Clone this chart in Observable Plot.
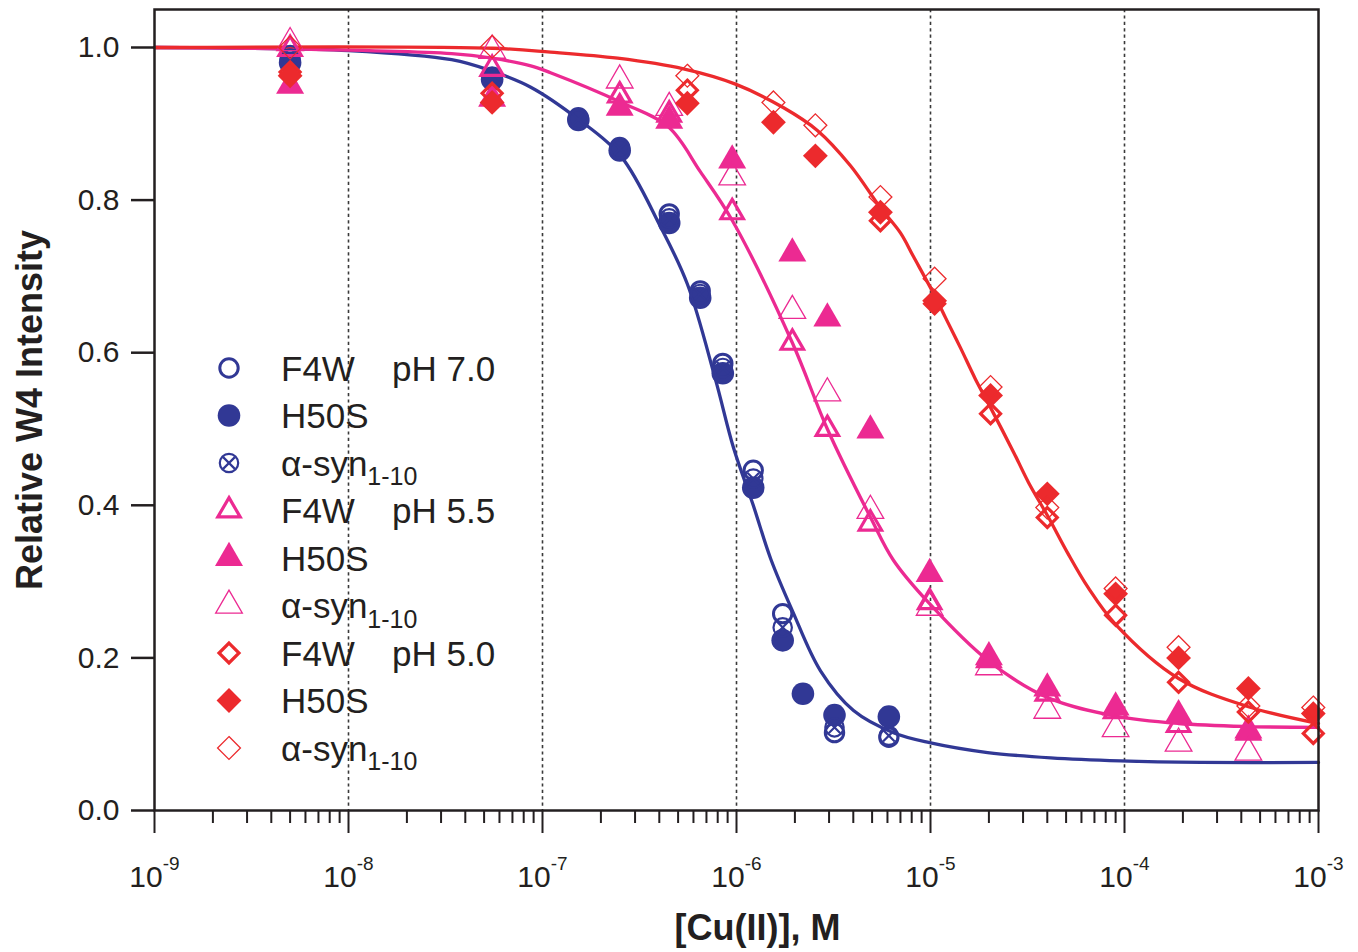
<!DOCTYPE html>
<html>
<head>
<meta charset="utf-8">
<script src="https://cdn.jsdelivr.net/npm/d3@7"></script>
<script src="https://cdn.jsdelivr.net/npm/@observablehq/plot@0.6"></script>
<style>
  html, body { margin: 0; padding: 0; background: #fff; }
  #chart { width: 1358px; height: 952px; }
</style>
</head>
<body>
<div id="chart"></div>
<script>
// ---------------- DATA ----------------
// axis ticks / labels
const xDecades = [1e-9, 1e-8, 1e-7, 1e-6, 1e-5, 1e-4, 1e-3];
const gridLines = [1e-8, 1e-7, 1e-6, 1e-5, 1e-4];
const yTicks = [0, 0.2, 0.4, 0.6, 0.8, 1.0];
const xTitle = "[Cu(II)], M";
const yTitle = "Relative W4 Intensity";

// pH 7.0 (blue)
const ph70_F4W_x  = [5e-9, 5.5e-8, 1.53e-7, 2.5e-7, 4.5e-7, 6.5e-7, 8.5e-7, 1.22e-6, 1.73e-6, 3.2e-6, 6.1e-6];
const ph70_F4W_y  = [0.985, 0.960, 0.908, 0.869, 0.782, 0.681, 0.586, 0.446, 0.258, 0.102, 0.096];
const ph70_H50S_x = [5e-9, 5.5e-8, 1.53e-7, 2.5e-7, 4.5e-7, 6.5e-7, 8.5e-7, 1.22e-6, 1.73e-6, 2.2e-6, 3.2e-6, 6.1e-6];
const ph70_H50S_y = [0.980, 0.958, 0.905, 0.865, 0.770, 0.672, 0.573, 0.423, 0.223, 0.153, 0.125, 0.123];
const ph70_syn_x  = [5e-9, 5.5e-8, 1.53e-7, 2.5e-7, 4.5e-7, 6.5e-7, 8.5e-7, 1.22e-6, 1.73e-6, 3.2e-6, 6.1e-6];
const ph70_syn_y  = [0.990, 0.962, 0.906, 0.867, 0.776, 0.677, 0.580, 0.435, 0.240, 0.109, 0.098];

// pH 5.5 (pink)
const ph55_x      = [5e-9, 5.5e-8, 2.5e-7, 4.5e-7, 9.5e-7, 1.94e-6, 2.94e-6, 4.9e-6, 9.9e-6, 2e-5, 4e-5, 9e-5, 1.9e-4, 4.35e-4];
const ph55_F4W_y  = [0.998, 0.972, 0.937, 0.912, 0.784, 0.613, 0.500, 0.376, 0.273, 0.197, 0.153, 0.130, 0.112, 0.102];
const ph55_H50S_y = [0.950, 0.933, 0.921, 0.904, 0.852, 0.730, 0.645, 0.498, 0.310, 0.201, 0.160, 0.135, 0.125, 0.105];
const ph55_syn_y  = [1.006, 0.996, 0.957, 0.921, 0.830, 0.655, 0.547, 0.393, 0.266, 0.188, 0.131, 0.107, 0.088, 0.076];

// pH 5.0 (red)
const ph50_F4W_x  = [5e-9, 5.5e-8, 5.58e-7, 5.52e-6, 1.05e-5, 2.04e-5, 4e-5, 9e-5, 1.9e-4, 4.35e-4, 9.4e-4];
const ph50_F4W_y  = [0.968, 0.940, 0.944, 0.773, 0.664, 0.520, 0.384, 0.256, 0.168, 0.129, 0.101];
const ph50_x      = [5e-9, 5.5e-8, 5.58e-7, 1.55e-6, 2.55e-6, 5.52e-6, 1.05e-5, 2.04e-5, 4e-5, 9e-5, 1.9e-4, 4.35e-4, 9.4e-4];
const ph50_H50S_y = [0.963, 0.928, 0.927, 0.902, 0.858, 0.784, 0.668, 0.544, 0.415, 0.284, 0.200, 0.160, 0.127];
const ph50_syn_y  = [1.000, 1.001, 0.963, 0.928, 0.898, 0.804, 0.697, 0.555, 0.397, 0.291, 0.214, 0.137, 0.135];

// fitted curves
const fit70_x = [1e-9, 3e-9, 1e-8, 3.4e-8, 5.5e-8, 8.7e-8, 1.53e-7, 2.53e-7, 4.06e-7, 5.58e-7, 7.79e-7, 9.66e-7, 1.22e-6, 1.5e-6, 1.94e-6, 2.71e-6, 4.01e-6, 6.44e-6, 9.88e-6, 1.97e-5, 4.16e-5, 9.53e-5, 2.47e-4, 1e-3];
const fit70_y = [1.000, 0.999, 0.996, 0.984, 0.969, 0.948, 0.906, 0.858, 0.765, 0.690, 0.565, 0.475, 0.400, 0.330, 0.262, 0.183, 0.131, 0.102, 0.089, 0.076, 0.069, 0.065, 0.063, 0.063];
const fit55_x = [1e-9, 3e-9, 3.4e-8, 5.5e-8, 8.7e-8, 1.1e-7, 2.55e-7, 4.45e-7, 6.52e-7, 9.53e-7, 1.94e-6, 2.94e-6, 4.91e-6, 6.44e-6, 9.89e-6, 1.97e-5, 4.01e-5, 8.87e-5, 1.9e-4, 4.35e-4, 1e-3];
const fit55_y = [1.000, 0.999, 0.992, 0.986, 0.976, 0.967, 0.928, 0.896, 0.837, 0.773, 0.613, 0.500, 0.384, 0.328, 0.271, 0.197, 0.148, 0.124, 0.114, 0.110, 0.109];
const fit50_x = [1e-9, 5.5e-8, 1.1e-7, 2.44e-7, 5.33e-7, 9.88e-7, 1.75e-6, 2.62e-6, 3.87e-6, 5.52e-6, 7e-6, 8.17e-6, 1.05e-5, 1.2e-5, 1.43e-5, 1.7e-5, 2.04e-5, 2.7e-5, 3.2e-5, 4.06e-5, 5.08e-5, 6.5e-5, 8.99e-5, 1.9e-4, 4.35e-4, 1e-3];
const fit50_y = [1.000, 0.999, 0.994, 0.986, 0.972, 0.952, 0.921, 0.891, 0.845, 0.790, 0.757, 0.726, 0.675, 0.645, 0.606, 0.566, 0.528, 0.468, 0.430, 0.384, 0.338, 0.292, 0.244, 0.173, 0.136, 0.114];

// legend
const legendNames = ["F4W", "H50S", "α-syn", "F4W", "H50S", "α-syn", "F4W", "H50S", "α-syn"];
const legendPH    = ["pH 7.0", "", "", "pH 5.5", "", "", "pH 5.0", "", ""];
const legendSub   = ["", "", "1-10", "", "", "1-10", "", "", "1-10"];

// ---------------- STYLE ----------------
const ink = "#231f20";
const C = {blue: "#313895", pink: "#ec2a92", red: "#ec2a2d"};
const font = "'Liberation Sans', Arial, Helvetica, sans-serif";

const ST = {
  openCircle:   {symbol: "circle",   r: 9.2,  filled: false, sw: 3},
  filledCircle: {symbol: "circle",   r: 11.3, filled: true},
  crossCircle:  {symbol: "circle",   r: 9.2,  filled: false, sw: 2.2, cross: 5.4},
  thickTri:     {symbol: "triangle", r: 8.3,  filled: false, sw: 3.2},
  filledTri:    {symbol: "triangle", r: 10.4, filled: true},
  thinTri:      {symbol: "triangle", r: 9.9,  filled: false, sw: 1.3},
  thickDia:     {symbol: "diamond2", r: 9.0,  filled: false, sw: 3.2},
  filledDia:    {symbol: "diamond2", r: 11.2, filled: true},
  thinDia:      {symbol: "diamond2", r: 10.3, filled: false, sw: 1.3}
};

const series = [
  {xs: ph70_F4W_x,  ys: ph70_F4W_y,  st: ST.openCircle,   color: C.blue},
  {xs: ph70_H50S_x, ys: ph70_H50S_y, st: ST.filledCircle, color: C.blue},
  {xs: ph70_syn_x,  ys: ph70_syn_y,  st: ST.crossCircle,  color: C.blue},
  {xs: ph55_x,      ys: ph55_F4W_y,  st: ST.thickTri,     color: C.pink},
  {xs: ph55_x,      ys: ph55_H50S_y, st: ST.filledTri,    color: C.pink},
  {xs: ph55_x,      ys: ph55_syn_y,  st: ST.thinTri,      color: C.pink},
  {xs: ph50_F4W_x,  ys: ph50_F4W_y,  st: ST.thickDia,     color: C.red},
  {xs: ph50_x,      ys: ph50_H50S_y, st: ST.filledDia,    color: C.red},
  {xs: ph50_x,      ys: ph50_syn_y,  st: ST.thinDia,      color: C.red}
];
const fits = [
  {xs: fit70_x, ys: fit70_y, color: C.blue},
  {xs: fit55_x, ys: fit55_y, color: C.pink},
  {xs: fit50_x, ys: fit50_y, color: C.red}
];

const toRows = (xs, ys) => xs.map((x, i) => ({x, y: ys[i]}));

function dotMarks(s) {
  const rows = toRows(s.xs, s.ys);
  const m = [Plot.dot(rows, {
    x: "x", y: "y", symbol: s.st.symbol, r: s.st.r,
    fill: s.st.filled ? s.color : "none",
    stroke: s.st.filled ? "none" : s.color,
    strokeWidth: s.st.sw || 0
  })];
  if (s.st.cross) m.push(Plot.dot(rows, {
    x: "x", y: "y", symbol: "times", r: s.st.cross,
    fill: "none", stroke: s.color, strokeWidth: s.st.sw
  }));
  return m;
}

const minorTicks = [];
for (let e = -9; e < -3; e++) for (let k = 2; k <= 9; k++) minorTicks.push(k * Math.pow(10, e));

const svg = Plot.plot({
  width: 1358,
  height: 952,
  marginLeft: 154,
  marginRight: 40,
  marginTop: 9,
  marginBottom: 142,
  style: {fontFamily: font, color: ink, background: "#fff", overflow: "visible"},
  x: {type: "log", domain: [1e-9, 1e-3]},
  y: {domain: [0, 1.0498]},
  marks: [
    Plot.ruleX(gridLines, {stroke: "#3a3a3a", strokeWidth: 1.6, strokeDasharray: "3.2,3.2"}),
    ...fits.map(f => Plot.line(toRows(f.xs, f.ys), {x: "x", y: "y", stroke: f.color, strokeWidth: 3.3, curve: "catmull-rom"})),
    ...series.flatMap(dotMarks),
    Plot.frame({stroke: ink, strokeWidth: 2.5}),
    Plot.axisY(yTicks, {tickSize: 23, tickPadding: 12, fontSize: 30, stroke: ink, strokeWidth: 2.5, tickFormat: d3.format(".1f"), label: null}),
    Plot.axisX(minorTicks, {tickSize: 13, stroke: ink, strokeWidth: 2, tickFormat: () => "", label: null}),
    Plot.axisX(xDecades, {tickSize: 23, tickPadding: 32, fontSize: 30, stroke: ink, strokeWidth: 2, tickFormat: d => "10^" + Math.round(Math.log10(d)), label: null}),
    Plot.text([yTitle], {frameAnchor: "left", dx: -124, rotate: -90, textAnchor: "middle", lineAnchor: "middle", fontSize: 36, fontWeight: "bold", fill: ink}),
    Plot.text([xTitle], {frameAnchor: "bottom", dx: 21, dy: 118, textAnchor: "middle", lineAnchor: "middle", fontSize: 36, fontWeight: "bold", fill: ink})
  ]
});

// superscripts on decade labels
d3.select(svg).selectAll('g[aria-label="x-axis tick label"] text').each(function () {
  const s = this.textContent;
  if (!s.includes("^")) return;
  const [b, e] = s.split("^");
  const t = d3.select(this);
  t.text(null);
  t.append("tspan").text(b);
  t.append("tspan").attr("dy", -17).attr("font-size", 19).text(e);
});

// legend (inside the plot area)
const symType = {circle: d3.symbolCircle, triangle: d3.symbolTriangle, diamond2: d3.symbolDiamond2};
const lg = d3.select(svg).append("g")
  .attr("font-family", font).attr("fill", ink).attr("text-anchor", "start");
const legendX = 229, legendTextX = 281, legendPHX = 392, legendY0 = 368, legendStep = 47.5;
series.forEach((s, i) => {
  const cy = legendY0 + i * legendStep;
  const g = lg.append("g").attr("transform", `translate(${legendX},${cy})`);
  g.append("path")
    .attr("d", d3.symbol(symType[s.st.symbol], Math.PI * s.st.r * s.st.r)())
    .attr("fill", s.st.filled ? s.color : "none")
    .attr("stroke", s.st.filled ? "none" : s.color)
    .attr("stroke-width", s.st.sw || 0);
  if (s.st.cross) g.append("path")
    .attr("d", d3.symbol(d3.symbolTimes, Math.PI * s.st.cross * s.st.cross)())
    .attr("fill", "none").attr("stroke", s.color).attr("stroke-width", s.st.sw);
  const t = lg.append("text").attr("x", legendTextX).attr("y", cy + 12.5)
    .attr("font-size", 35).attr("text-anchor", "start");
  t.append("tspan").text(legendNames[i]);
  if (legendSub[i]) t.append("tspan").attr("dy", 9.5).attr("font-size", 25).text(legendSub[i]);
  if (legendPH[i]) lg.append("text").attr("x", legendPHX).attr("y", cy + 12.5)
    .attr("font-size", 35).attr("text-anchor", "start").text(legendPH[i]);
});

document.getElementById("chart").appendChild(svg);
</script>
</body>
</html>
